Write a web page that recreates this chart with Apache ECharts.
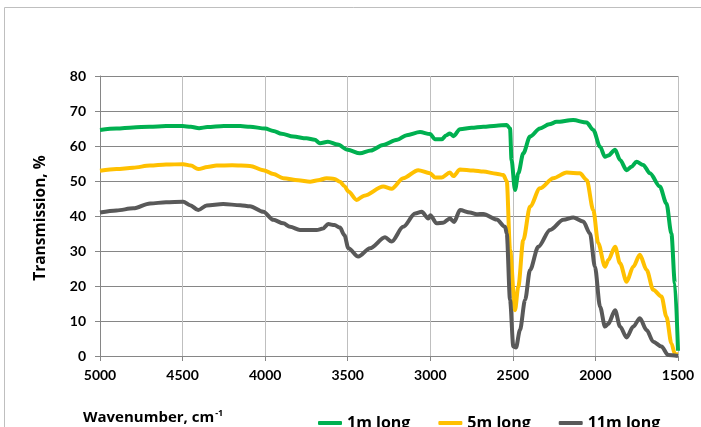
<!DOCTYPE html>
<html><head><meta charset="utf-8">
<script src="https://cdn.jsdelivr.net/npm/echarts@6/dist/echarts.min.js"></script>
<style>html,body{margin:0;padding:0;background:#fff}#c{width:701px;height:427px}</style>
</head><body><div id="c"></div>
<script>
const seriesNames = ['1m long', '5m long', '11m long'];
const xTicks = [5000, 4500, 4000, 3500, 3000, 2500, 2000, 1500];
const yTicks = [0, 10, 20, 30, 40, 50, 60, 70, 80];

const wnGreen = [5000,4900,4800,4700,4600,4500,4450,4400,4350,4250,4150,4092,4000,3950,3900,3830,3750,3700,3668,3620,3560,3500,3426,3360,3286,3200,3143,3062,3002,2971,2931,2905,2881,2860,2820,2750,2679,2600,2537,2517,2508,2487,2467,2437,2396,2336,2280,2235,2135,2053,2013,1972,1942,1922,1881,1851,1811,1781,1751,1711,1670,1610,1570,1540,1519,1500];
const tGreen = [64.6,65.0,65.3,65.5,65.7,65.7,65.5,65.1,65.4,65.7,65.7,65.5,65.0,64.3,63.5,62.7,62.2,61.8,60.8,61.2,60.4,58.9,57.9,58.7,60.3,61.8,63.1,64.0,63.4,61.9,61.9,63.0,63.6,62.8,64.8,65.2,65.5,65.8,66.0,65.0,56.0,47.4,52.2,57.9,62.7,65.0,66.2,66.9,67.4,66.7,64.6,59.8,56.9,57.3,58.9,56.0,53.1,54.1,55.5,54.6,52.2,48.4,43.6,35.0,20.8,1.5];

const wnYellow = [5000,4900,4800,4697,4600,4496,4450,4405,4350,4294,4200,4092,4011,3950,3890,3800,3728,3680,3628,3580,3547,3520,3496,3446,3400,3285,3234,3164,3073,3002,2971,2931,2881,2860,2820,2740,2679,2600,2558,2537,2517,2487,2467,2437,2396,2336,2255,2174,2094,2053,2013,1983,1942,1922,1881,1851,1811,1771,1731,1690,1650,1600,1570,1540,1519,1500];
const tYellow = [52.9,53.4,53.8,54.4,54.7,54.8,54.4,53.4,54.0,54.4,54.5,54.3,53.1,52.0,50.8,50.2,49.8,50.2,50.8,50.6,49.8,48.5,47.0,44.6,45.8,48.4,47.8,50.8,53.1,52.2,51.0,51.0,52.4,51.4,53.3,53.0,52.7,52.1,51.7,50.0,30.3,13.1,19.8,33.1,42.7,47.9,50.8,52.4,52.2,50.3,41.7,32.2,25.5,27.4,31.2,26.5,21.2,25.5,28.9,24.6,18.9,17.0,11.2,3.6,0.6,0.5];

const wnGray = [5000,4900,4798,4697,4600,4496,4455,4405,4354,4254,4150,4092,4011,3950,3890,3849,3789,3749,3688,3650,3618,3580,3547,3520,3496,3436,3365,3274,3234,3164,3092,3052,3012,3000,2962,2922,2881,2856,2820,2760,2719,2679,2598,2547,2537,2517,2497,2481,2457,2426,2396,2346,2275,2194,2134,2074,2033,2003,1972,1942,1922,1881,1851,1811,1771,1731,1690,1650,1600,1560,1500];
const tGray = [41.0,41.6,42.2,43.6,43.9,44.1,43.1,41.7,43.0,43.4,43.1,42.8,41.2,38.9,37.9,36.9,36.0,36.0,36.0,36.4,37.7,37.4,36.7,34.5,30.8,28.4,30.8,33.9,32.7,36.9,40.7,41.2,39.3,40.2,37.9,38.1,39.3,38.3,41.7,41.0,40.5,40.6,39.0,36.9,35.0,16.0,2.7,2.4,7.4,16.0,24.6,31.2,36.0,38.9,39.6,38.4,35.0,25.5,14.1,8.4,9.2,13.1,8.4,5.3,8.4,10.8,7.4,4.1,2.7,0.3,0.0];

const colors = ['#00B050', '#FFC000', '#595959'];
const zip = (a, b) => a.map((v, i) => [v, b[i]]);
const datasets = [zip(wnGreen, tGreen), zip(wnYellow, tYellow), zip(wnGray, tGray)];

const FONT = 'Lato';
const TFONT = 'Open Sans';
const chart = echarts.init(document.getElementById('c'), null, {renderer: 'canvas'});
chart.setOption({
  animation: false,
  backgroundColor: '#fff',
  textStyle: {fontFamily: FONT},
  grid: {left: 100, right: 23, top: 76, bottom: 71, containLabel: false},
  xAxis: {
    type: 'value', inverse: true, min: 1500, max: 5000, interval: 500,
    axisLine: {show: true, lineStyle: {color: '#868686', width: 1}},
    axisTick: {show: true, length: 5, lineStyle: {color: '#868686'}},
    axisLabel: {color: '#000', fontWeight: 'bold', fontSize: 14, margin: 12, fontFamily: FONT,
      formatter: v => xTicks.includes(v) ? String(v) : ''},
    splitLine: {show: true, lineStyle: {color: '#BFBFBF', width: 1}}
  },
  yAxis: {
    type: 'value', min: 0, max: 80, interval: 10,
    name: 'Transmission, %', nameLocation: 'middle', nameGap: 51,
    nameTextStyle: {color: '#000', fontWeight: 'bold', fontSize: 15.5, fontFamily: TFONT, padding: [0, 4, 0, 0]},
    axisLine: {show: true, lineStyle: {color: '#868686', width: 1}},
    axisTick: {show: true, length: 5, lineStyle: {color: '#868686'}},
    axisLabel: {color: '#000', fontWeight: 'bold', fontSize: 14, margin: 14, fontFamily: FONT,
      formatter: v => yTicks.includes(v) ? String(v) : ''},
    splitLine: {show: true, lineStyle: {color: '#868686', width: 1}}
  },
  legend: {
    left: 313, top: 410, itemWidth: 24, itemHeight: 4, itemGap: 28,
    icon: 'roundRect',
    textStyle: {color: '#000', fontSize: 16, fontFamily: TFONT, fontWeight: 'bold'},
    data: seriesNames
  },
  graphic: [
    {type: 'rect', shape: {x: 4.5, y: 7.5, width: 800, height: 500}, style: {fill: 'none', stroke: '#BFBFBF', lineWidth: 1}, z: -1},
    {type: 'text', left: 83, top: 409, style: {
      text: '{a|Wavenumber, cm}{b|-1}',
      rich: {a: {fontSize: 15, fontWeight: 'bold', fontFamily: TFONT, fill: '#000'},
             b: {fontSize: 9, fontWeight: 'bold', fontFamily: TFONT, fill: '#000', verticalAlign: 'top', padding: [0,0,8,1]}}
    }}
  ],
  series: seriesNames.map((n, i) => ({
    name: n, type: 'line', data: datasets[i], showSymbol: false, symbol: 'none',
    smooth: 0.3, smoothMonotone: 'x',
    lineStyle: {color: colors[i], width: 4}, itemStyle: {color: colors[i]}
  }))
});
</script></body></html>
